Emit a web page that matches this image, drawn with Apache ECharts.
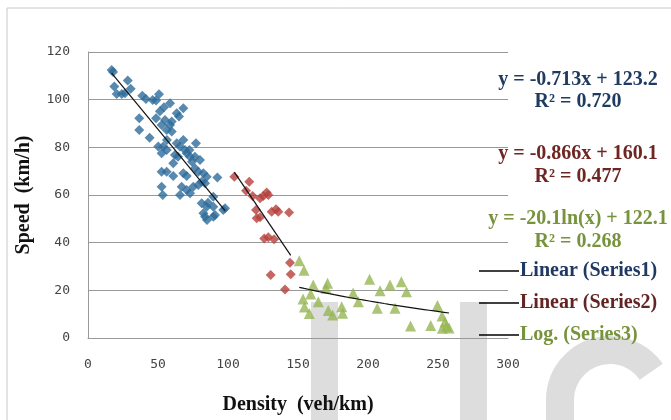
<!DOCTYPE html>
<html><head><meta charset="utf-8">
<script src="https://cdn.jsdelivr.net/npm/echarts@6/dist/echarts.min.js"></script>
<style>html,body{margin:0;padding:0;background:#fff}#c{width:671px;height:420px}</style>
</head><body><div id="c"></div>
<script>
// Series 1 (blue diamonds)
const s1Density = [16.9,17.9,28.4,18.8,30.5,20.5,24.1,26.4,38.8,50.7,46.2,48.6,58.6,54.3,68.1,36.6,36.6,51.4,63.4,65.0,48.6,55.0,59.8,58.6,52.6,56.2,59.8,68.1,50.2,53.8,56.2,63.4,65.7,69.3,77.1,72.4,70.5,52.6,60.9,72.9,76.4,80.0,52.6,56.2,60.9,68.1,70.5,76.4,78.8,82.4,84.8,92.4,52.6,53.4,66.9,70.5,65.7,72.9,75.2,78.8,81.2,83.6,81.2,84.8,82.4,89.5,89.5,83.6,89.5,96.6,97.9,85.7,90.7,85.0,41.4,56.4,62.1,74.3,64.3,44.0];
const s1Speed   = [112.5,111.6,108.0,105.5,104.6,102.4,102.4,102.7,101.6,102.3,99.9,99.6,98.5,96.8,96.4,92.2,87.3,95.1,94.3,92.9,92.2,91.5,90.8,89.4,89.4,87.3,86.6,83.1,80.3,80.3,78.9,81.7,80.3,78.9,81.7,78.9,77.5,77.5,73.3,76.1,76.1,74.7,69.8,69.8,68.0,69.1,68.0,71.2,69.8,69.1,67.7,67.3,63.5,60.0,63.5,62.1,60.0,60.7,63.5,64.2,65.6,64.9,56.5,55.1,52.3,59.3,55.1,50.9,50.9,53.7,54.4,56.7,51.6,49.5,100.3,83.1,76.8,73.9,76.0,84.0];
// Series 2 (red diamonds)
const s2Density = [104.5,115.2,112.9,117.6,122.9,125.2,127.6,128.8,120.0,131.2,134.3,135.9,143.6,120.5,122.9,125.9,128.8,132.9,144.3,130.5,144.8,140.7];
const s2Speed   = [67.7,65.6,61.8,59.6,58.6,59.6,61.0,60.0,53.7,53.0,54.0,53.0,52.7,50.2,50.7,41.8,42.3,41.4,31.6,26.4,26.7,20.4];
// Series 3 (green triangles)
const s3Density = [150.9,154.3,160.9,171.1,170.0,153.6,154.6,158.1,159.1,164.5,171.6,174.8,181.2,181.9,189.4,193.1,201.1,208.6,215.7,223.8,227.5,206.6,219.3,230.4,244.8,249.6,252.9,256.2,253.1,257.9,255.0];
const s3Speed   = [32.4,28.4,22.2,23.0,20.9,16.4,13.0,10.3,18.5,15.2,11.5,9.7,13.1,10.4,18.9,15.2,24.6,19.8,22.2,23.6,19.4,12.5,12.5,5.0,5.2,13.6,9.2,5.0,4.1,4.2,6.7];
// Trendline coefficients as printed on the chart
const fit1 = [-0.713, 123.2];   // linear
const fit2 = [-0.866, 160.1];   // linear
const fit3 = [-20.1, 122.1];    // logarithmic
const eqTexts = [
  ['y = -0.713x + 123.2', 'R² = 0.720'],
  ['y = -0.866x + 160.1', 'R² = 0.477'],
  ['y = -20.1ln(x) + 122.1', 'R² = 0.268']
];
const legendNames = ['Linear (Series1)', 'Linear (Series2)', 'Log. (Series3)'];

const zip = (a, b) => a.map((v, i) => [v, b[i]]);
const linLine = (xs, f) => { const lo = Math.min(...xs), hi = Math.max(...xs); return [[lo, f[0]*lo + f[1]], [hi, f[0]*hi + f[1]]]; };
const logLine = (xs, f) => { const lo = Math.min(...xs), hi = Math.max(...xs), out = []; for (let i = 0; i <= 30; i++) { const x = lo + (hi - lo) * i / 30; out.push([x, f[0]*Math.log(x) + f[1]]); } return out; };

const serif = '"Liberation Serif", "Times New Roman", serif';
const eqColors = ['#1F3B61', '#6E2623', '#77933C'];
const legColors = ['#1F3864', '#632523', '#77933C'];
const eqY = [[80, 102], [154, 177], [219, 242]];

const graphics = [
  { type: 'rect', z: -10, silent: true, shape: { x: 7, y: 8, width: 720, height: 500 }, style: { fill: 'none', stroke: '#c8c8c8', lineWidth: 1 } },
  { type: 'rect', z: -5, silent: true, shape: { x: 311, y: 302, width: 27, height: 130 }, style: { fill: '#dddddd' } },
  { type: 'rect', z: -5, silent: true, shape: { x: 460, y: 302, width: 27, height: 130 }, style: { fill: '#dddddd' } },
  { type: 'arc', z: -5, silent: true, shape: { cx: 610, cy: 400, r: 50, startAngle: Math.PI, endAngle: 2*Math.PI - 0.6, clockwise: true }, style: { fill: 'none', stroke: '#dddddd', lineWidth: 28 } },
  { type: 'rect', z: -5, silent: true, shape: { x: 546, y: 398, width: 28, height: 30 }, style: { fill: '#dddddd' } }
];
eqTexts.forEach((pair, i) => {
  pair.forEach((t, j) => {
    graphics.push({ type: 'text', z: 10, style: { text: t, x: 578, y: eqY[i][j], textAlign: 'center', textVerticalAlign: 'middle', font: 'bold 20px ' + serif, fill: eqColors[i] } });
  });
});

const chart = echarts.init(document.getElementById('c'), null, { renderer: 'canvas' });
chart.setOption({
  animation: false,
  backgroundColor: '#fff',
  grid: { left: 88, right: 163, top: 52, bottom: 82 },
  xAxis: {
    type: 'value', min: 0, max: 300, interval: 50,
    name: 'Density  (veh/km)', nameLocation: 'middle', nameGap: 57,
    nameTextStyle: { fontFamily: serif, fontWeight: 'bold', fontSize: 20, color: '#111' },
    axisLine: { show: true, lineStyle: { color: '#999', width: 1 } },
    axisTick: { show: false },
    axisLabel: { margin: 20, fontFamily: '"DejaVu Sans Mono", monospace', fontSize: 13, color: '#444' },
    splitLine: { show: false }
  },
  yAxis: {
    type: 'value', min: 0, max: 120, interval: 20,
    name: 'Speed  (km/h)', nameLocation: 'middle', nameGap: 54, nameRotate: 90,
    nameTextStyle: { fontFamily: serif, fontWeight: 'bold', fontSize: 20, color: '#111' },
    axisLine: { show: true, lineStyle: { color: '#999', width: 1 } },
    axisTick: { show: false },
    axisLabel: { margin: 18, fontFamily: '"DejaVu Sans Mono", monospace', fontSize: 13, color: '#444' },
    splitLine: { show: true, lineStyle: { color: '#999', width: 1 } }
  },
  legend: {
    orient: 'vertical', left: 474, top: 256,
    icon: 'rect', itemWidth: 40, itemHeight: 1.5, itemGap: 12,
    textStyle: { fontFamily: serif, fontWeight: 'bold', fontSize: 20, lineHeight: 20, padding: [0, 0, 0, -4] },
    data: legendNames.map((n, i) => ({ name: n, itemStyle: { color: '#000' }, textStyle: { color: legColors[i] } }))
  },
  graphic: graphics,
  series: [
    { name: 'Series1', type: 'scatter', symbol: 'diamond', symbolSize: 10, itemStyle: { color: '#2E6B9A' }, data: zip(s1Density, s1Speed), z: 3 },
    { name: 'Series2', type: 'scatter', symbol: 'diamond', symbolSize: 10, itemStyle: { color: '#B5413C' }, data: zip(s2Density, s2Speed), z: 3 },
    { name: 'Series3', type: 'scatter', symbol: 'triangle', symbolSize: 11, itemStyle: { color: '#96B552' }, data: zip(s3Density, s3Speed), z: 3 },
    { name: legendNames[0], type: 'line', showSymbol: false, lineStyle: { color: '#111', width: 1.2 }, itemStyle: { color: '#000' }, data: linLine(s1Density, fit1), z: 4 },
    { name: legendNames[1], type: 'line', showSymbol: false, lineStyle: { color: '#111', width: 1.2 }, itemStyle: { color: '#000' }, data: linLine(s2Density, fit2), z: 4 },
    { name: legendNames[2], type: 'line', showSymbol: false, lineStyle: { color: '#111', width: 1.2 }, itemStyle: { color: '#000' }, data: logLine(s3Density, fit3), z: 4 }
  ]
});
</script></body></html>
